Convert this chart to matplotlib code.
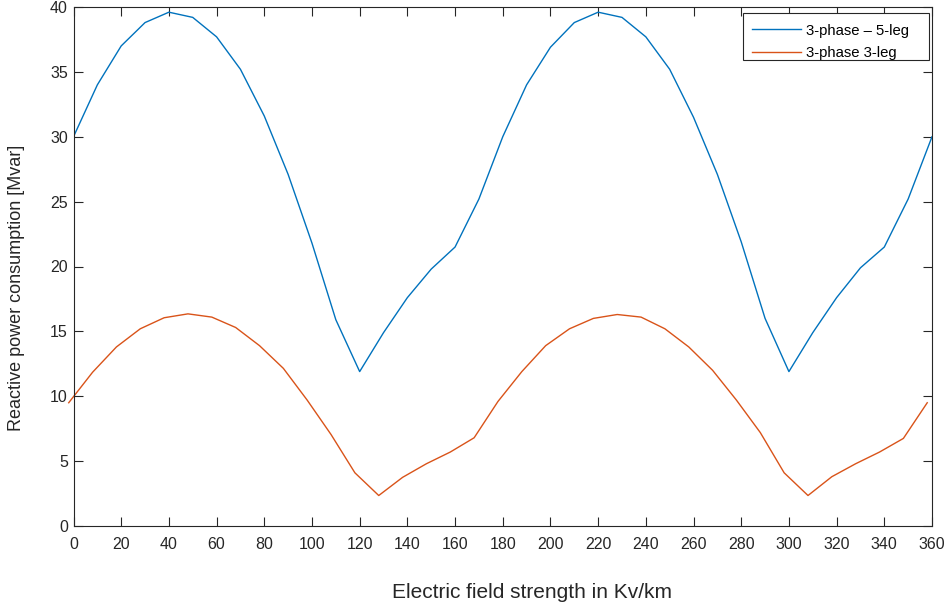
import matplotlib
matplotlib.use("Agg")
import matplotlib.pyplot as plt
from matplotlib.patches import Rectangle

# Data
x_5leg = [0, 10, 20, 30, 40, 50, 60, 70, 80, 90, 100, 110, 120, 130, 140, 150, 160, 170, 180,
          190, 200, 210, 220, 230, 240, 250, 260, 270, 280, 290, 300, 310, 320, 330, 340, 350, 360]
y_5leg = [30.0, 34.0, 37.0, 38.8, 39.6, 39.2, 37.7, 35.2, 31.6, 27.1, 21.8, 15.9, 11.9, 14.9, 17.6, 19.8, 21.5, 25.2, 30.0,
          34.0, 36.9, 38.8, 39.6, 39.2, 37.7, 35.2, 31.5, 27.1, 21.9, 16.0, 11.9, 14.9, 17.6, 19.9, 21.5, 25.2, 30.0]

x_3leg = [-2, 8, 18, 28, 38, 48, 58, 68, 78, 88, 98, 108, 118, 128, 138, 148, 158, 168, 178,
          188, 198, 208, 218, 228, 238, 248, 258, 268, 278, 288, 298, 308, 318, 328, 338, 348, 358]
y_3leg = [9.5, 11.85, 13.8, 15.2, 16.05, 16.35, 16.1, 15.3, 13.9, 12.15, 9.7, 7.05, 4.1, 2.35, 3.75, 4.8, 5.7, 6.8, 9.6,
          11.9, 13.9, 15.2, 16.0, 16.3, 16.1, 15.2, 13.8, 12.0, 9.7, 7.2, 4.1, 2.35, 3.8, 4.8, 5.7, 6.75, 9.5]

labels = ["3-phase \u2013 5-leg", "3-phase 3-leg"]
x_ticks = list(range(0, 361, 20))
y_ticks = list(range(0, 41, 5))
x_title = "Electric field strength in Kv/km"
y_title = "Reactive power consumption [Mvar]"

plt.rcParams['font.family'] = ['Liberation Sans', 'DejaVu Sans']
axc = '#262626'
W, H = 949, 605

fig = plt.figure(figsize=(W / 100, H / 100), dpi=100)
ax = fig.add_axes([73.5 / W, 1 - 526 / H, (932 - 73.5) / W, (526 - 7) / H])

ax.plot(x_5leg, y_5leg, color='#0072BD', lw=1.0, label=labels[0])
ax.plot(x_3leg, y_3leg, color='#D95319', lw=1.0, label=labels[1], clip_on=False)

ax.set_xlim(0, 360)
ax.set_ylim(0, 40)
ax.set_xticks(x_ticks)
ax.set_yticks(y_ticks)
ax.tick_params(direction='in', top=True, right=True, length=6.2, width=0.8,
               labelsize=11.5, colors=axc)
ax.tick_params(axis='x', pad=8)
ax.tick_params(axis='y', pad=4)
for s in ax.spines.values():
    s.set_color(axc)
    s.set_linewidth(0.8)

fig.text(532 / W, 1 - 598 / H, x_title, fontsize=15, color=axc,
         ha='center', va='baseline')
fig.text(17 / W, 1 - 288 / H, y_title, fontsize=13, color=axc,
         ha='center', va='center', rotation=90)

# legend box (MATLAB style, with generous right padding)
ax.add_patch(Rectangle((743 / W, 1 - 60 / H), 186 / W, 47 / H,
                       transform=fig.transFigure, facecolor='white',
                       edgecolor=axc, lw=0.8, zorder=4, clip_on=False))
leg = ax.legend(loc='upper left', bbox_to_anchor=(741.5 / W, 1 - 13 / H),
                bbox_transform=fig.transFigure, borderaxespad=0,
                fontsize=10.7, frameon=False,
                handlelength=3.3, handletextpad=0.3,
                labelspacing=0.55, borderpad=0.72)
leg.set_zorder(5)

fig.savefig("out.png", dpi=100)
